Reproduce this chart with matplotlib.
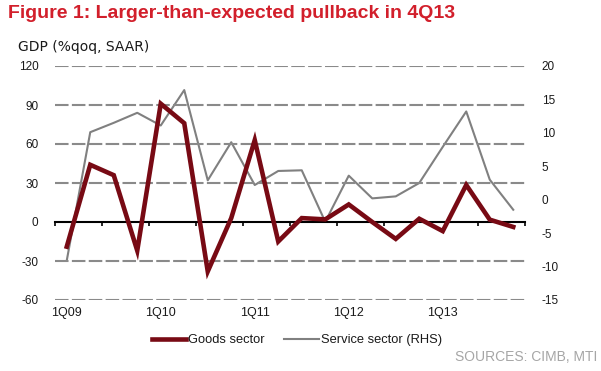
import matplotlib
matplotlib.use("Agg")
import matplotlib.pyplot as plt
from matplotlib import font_manager as fm

quarters = ["1Q09", "2Q09", "3Q09", "4Q09", "1Q10", "2Q10", "3Q10", "4Q10",
            "1Q11", "2Q11", "3Q11", "4Q11", "1Q12", "2Q12", "3Q12", "4Q12",
            "1Q13", "2Q13", "3Q13", "4Q13"]
goods = [-19, 44, 36, -22, 91, 76, -38, 3, 63, -15, 3, 2, 13.5, 0, -13, 2.5,
         -7, 28.5, 1.8, -3.8]
services = [-9.1, 10.1, 11.5, 13.0, 11.1, 16.4, 2.9, 8.6, 2.2, 4.3, 4.4, -3.3,
            3.6, 0.2, 0.5, 2.5, 7.9, 13.2, 3.0, -1.5]
left_ticks = [-60, -30, 0, 30, 60, 90, 120]
right_ticks = [-15, -10, -5, 0, 5, 10, 15, 20]
label_quarters = ["1Q09", "1Q10", "1Q11", "1Q12", "1Q13"]

avail = {f.name for f in fm.fontManager.ttflist}
base = "Liberation Sans" if "Liberation Sans" in avail else "DejaVu Sans"
narrow = "Liberation Sans Narrow" if "Liberation Sans Narrow" in avail else base
plt.rcParams["font.family"] = [base, "DejaVu Sans"]

W, H = 601, 371
fig = plt.figure(figsize=(W / 100, H / 100), dpi=100)
fig.patch.set_facecolor("white")

rect = [55 / W, 1 - 300 / H, 470 / W, 234 / H]
ax2 = fig.add_axes(rect)           # right axis (services), drawn below
ax = fig.add_axes(rect, sharex=ax2)  # left axis (goods), drawn on top
ax.patch.set_visible(False)

x = list(range(len(quarters)))

# gridlines on left scale
ax.set_ylim(-60, 120)
ax.set_yticks(left_ticks)
ax.set_yticklabels([str(v) for v in left_ticks])
for v in left_ticks:
    if v != 0:
        ax.axhline(v, color="#8a8a8a", lw=1.5, dashes=(6.5, 1.6), zorder=0)

ax2.set_ylim(-15, 20)
ax2.set_yticks(right_ticks)
ax2.set_yticklabels([str(v) for v in right_ticks])
ax2.yaxis.tick_right()
ax2.plot(x, services, color="#808080", lw=1.5, zorder=3,
         label="Service sector (RHS)")

ax.plot(x, goods, color="#780a14", lw=3.3, zorder=4, solid_joinstyle="miter",
        label="Goods sector")

for a in (ax, ax2):
    for s in ("top", "left", "right"):
        a.spines[s].set_visible(False)
ax2.spines["bottom"].set_visible(False)
ax2.tick_params(axis="x", length=0, labelbottom=False)

ax.set_xlim(-0.5, len(quarters) - 0.5)
ax.spines["bottom"].set_position(("data", 0))
ax.spines["bottom"].set_color("black")
ax.spines["bottom"].set_linewidth(1.5)
ax.set_xticks([i - 0.5 for i in range(0, len(quarters) + 1, 2)])
ax.tick_params(axis="x", direction="out", length=3, width=1.2, color="black",
               labelbottom=False)

ax.tick_params(axis="y", length=0, pad=12, labelsize=8.5, labelcolor="#1a1a1a")
ax2.tick_params(axis="y", length=0, pad=12, labelsize=8.5, labelcolor="#1a1a1a")

sec = ax.secondary_xaxis(0)
sec.set_xticks([quarters.index(q) for q in label_quarters])
sec.set_xticklabels(label_quarters)
sec.tick_params(length=0, pad=5, labelsize=9, labelcolor="#1a1a1a")
sec.spines["bottom"].set_visible(False)

h1, l1 = ax.get_legend_handles_labels()
h2, l2 = ax2.get_legend_handles_labels()
fig.legend(h1 + h2, l1 + l2, loc="center", bbox_to_anchor=(297 / W, 1 - 340 / H),
           ncol=2, frameon=False, fontsize=9.3, handlelength=2.7,
           handletextpad=0.15, columnspacing=1.5, labelcolor="#1a1a1a")

fig.text(8 / W, 1 - 14 / H, "Figure 1: Larger-than-expected pullback in 4Q13",
         color="#d21f2b", fontsize=14, fontweight="bold", family=[narrow, "DejaVu Sans"],
         va="center", ha="left")
fig.text(18 / W, 1 - 47 / H, "GDP (%qoq, SAAR)", color="#1a1a1a", fontsize=10,
         family=["DejaVu Sans"], va="center", ha="left")
fig.text(597 / W, 1 - 357 / H, "SOURCES: CIMB, MTI", color="#a6a6a6",
         fontsize=10, va="center", ha="right")

fig.savefig("out.png", dpi=100)
